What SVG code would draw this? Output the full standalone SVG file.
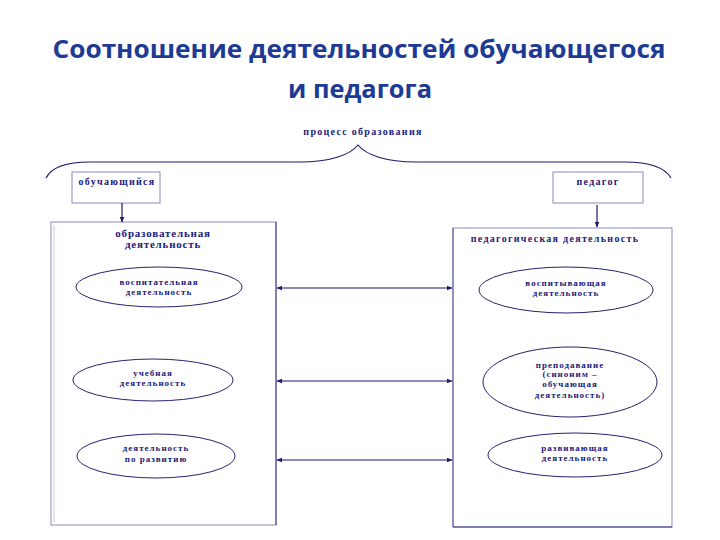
<svg xmlns="http://www.w3.org/2000/svg" width="720" height="540" viewBox="0 0 720 540">
<defs>
<marker id="ah" viewBox="0 0 10 10" refX="9" refY="5" markerWidth="6" markerHeight="6" orient="auto-start-reverse" markerUnits="userSpaceOnUse">
<path d="M0,1 L10,5 L0,9 z" fill="#1a1a6e"/>
</marker>
<style>
.title{font-family:"Open Sans","Noto Sans",sans-serif;font-weight:bold;font-size:25px;fill:#1d3a94;text-anchor:middle}
.t{font-family:"Liberation Serif","DejaVu Serif",serif;font-weight:bold;fill:#1a1a7a;text-anchor:middle}
.s9{font-size:9px;letter-spacing:1px}
.s10{font-size:10px;letter-spacing:1.3px}
.s11{font-size:11px;letter-spacing:0.8px}
.box{fill:#ffffff;stroke:#8a8ac0;stroke-width:1}
.ell{fill:#ffffff;stroke:#22226e;stroke-width:1}
.ln{fill:none;stroke:#1a1a6e;stroke-width:1.2}
</style>
</defs>
<rect width="720" height="540" fill="#ffffff"/>
<g id="title">
<text class="title" x="359" y="58" textLength="613" lengthAdjust="spacingAndGlyphs">Соотношение деятельностей обучающегося</text>
<text class="title" x="360" y="98" textLength="144" lengthAdjust="spacingAndGlyphs">и педагога</text>
</g>
<g id="process">
<text class="t s10" x="363" y="135">процесс образования</text>
<path class="ln" d="M46,178 C52,166 70,162 90,162 L300,162 C330,162 350,155 358,145 C366,155 386,162 416,162 L625,162 C650,162 665,168 671,178"/>
</g>
<g id="learner">
<rect class="box" x="72" y="172" width="88" height="31"/>
<text class="t s10" x="117" y="185">обучающийся</text>
</g>
<g id="teacher">
<rect class="box" x="553" y="172" width="90" height="31"/>
<text class="t s10" x="598" y="185">педагог</text>
</g>
<g id="left-box">
<rect class="box" x="51" y="222" width="225" height="303"/>
<line x1="54" y1="225" x2="54" y2="522" stroke="#c8c8e0" stroke-width="1"/>
<line x1="276" y1="222" x2="276" y2="525" stroke="#3a3a80" stroke-width="1"/>
<text class="t s11" x="163" y="237">образовательная</text>
<text class="t s11" x="163" y="248">деятельность</text>
</g>
<g id="left-e1">
<ellipse class="ell" cx="159" cy="287" rx="83" ry="20"/>
<text class="t s9" x="159" y="285">воспитательная</text>
<text class="t s9" x="159" y="295">деятельность</text>
</g>
<g id="left-e2">
<ellipse class="ell" cx="153" cy="380" rx="80" ry="21"/>
<text class="t s9" x="153" y="376">учебная</text>
<text class="t s9" x="153" y="386">деятельность</text>
</g>
<g id="left-e3">
<ellipse class="ell" cx="156" cy="456" rx="79" ry="22"/>
<text class="t s9" x="156" y="451">деятельность</text>
<text class="t s9" x="156" y="462">по развитию</text>
</g>
<g id="right-box">
<rect class="box" x="453" y="228" width="219" height="299"/>
<line x1="453" y1="228" x2="453" y2="527" stroke="#5a5a98" stroke-width="1"/>
<line x1="453" y1="527" x2="672" y2="527" stroke="#3a3a80" stroke-width="1"/>
<text class="t s10" x="555" y="242">педагогическая деятельность</text>
</g>
<g id="right-e1">
<ellipse class="ell" cx="566" cy="290" rx="87" ry="23"/>
<text class="t s9" x="566" y="286">воспитывающая</text>
<text class="t s9" x="566" y="296">деятельность</text>
</g>
<g id="right-e2">
<ellipse class="ell" cx="570" cy="382" rx="87" ry="35"/>
<text class="t s9" x="570" y="368">преподавание</text>
<text class="t s9" x="570" y="377">(синоним –</text>
<text class="t s9" x="570" y="387">обучающая</text>
<text class="t s9" x="570" y="398">деятельность)</text>
</g>
<g id="right-e3">
<ellipse class="ell" cx="575" cy="455" rx="87" ry="22"/>
<text class="t s9" x="575" y="451">развивающая</text>
<text class="t s9" x="575" y="461">деятельность</text>
</g>
<g id="connectors">
<line class="ln" x1="122" y1="203" x2="122" y2="222" marker-end="url(#ah)"/>
<line class="ln" x1="597" y1="205" x2="597" y2="227" marker-end="url(#ah)"/>
<line class="ln" x1="277" y1="288" x2="452" y2="288" marker-start="url(#ah)" marker-end="url(#ah)"/>
<line class="ln" x1="277" y1="381" x2="452" y2="381" marker-start="url(#ah)" marker-end="url(#ah)"/>
<line class="ln" x1="277" y1="460" x2="452" y2="460" marker-start="url(#ah)" marker-end="url(#ah)"/>
</g>
</svg>
